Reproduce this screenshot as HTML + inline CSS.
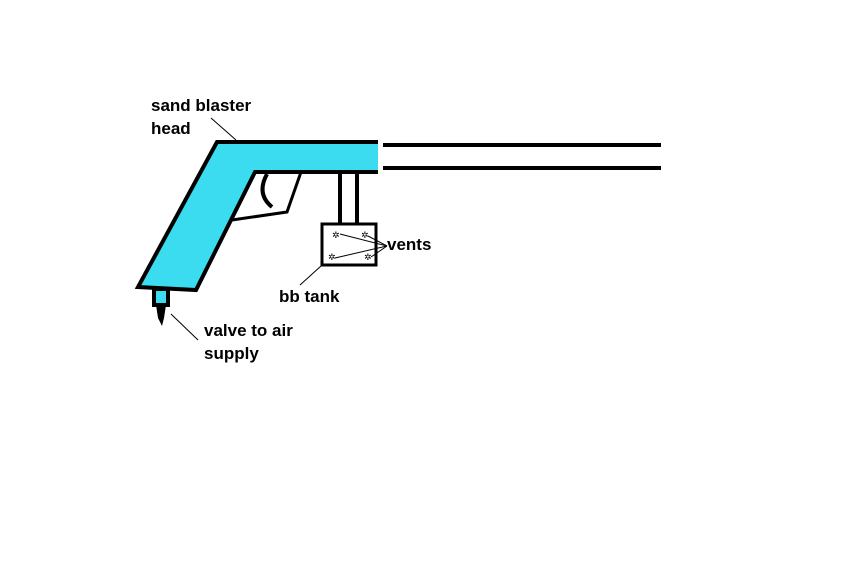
<!DOCTYPE html>
<html><head><style>
body{margin:0;background:#fff;}
svg{display:block}
text{font-family:"Liberation Sans","DejaVu Sans",sans-serif;font-weight:bold;font-size:17px;fill:#000}
</style></head><body>
<svg width="867" height="577" viewBox="0 0 867 577">
<rect width="867" height="577" fill="#fff"/>
<line x1="383" y1="145" x2="661" y2="145" stroke="#000" stroke-width="4"/>
<line x1="383" y1="168" x2="661" y2="168" stroke="#000" stroke-width="4"/>
<polyline points="301,172 287,212 232,220" fill="none" stroke="#000" stroke-width="3"/>
<path d="M267,174 Q256,194 272,207" fill="none" stroke="#000" stroke-width="4"/>
<polygon points="217,142 378,142 378,172 255,172 196,290 138,287" fill="#3bdcef"/>
<polyline points="378,142 217,142 138,287 196,290 255,172 378,172" fill="none" stroke="#000" stroke-width="4" stroke-linejoin="miter"/>
<rect x="154" y="289" width="14" height="16" fill="#3bdcef" stroke="#000" stroke-width="4"/>
<polygon points="156,305 166,305 164,318 162,326 158,318" fill="#000"/>
<line x1="171" y1="314" x2="198" y2="340" stroke="#000" stroke-width="1"/>
<line x1="340" y1="172" x2="340" y2="224" stroke="#000" stroke-width="4"/>
<line x1="357" y1="172" x2="357" y2="224" stroke="#000" stroke-width="4"/>
<rect x="322" y="224" width="54" height="41" fill="#fff" stroke="#000" stroke-width="3"/>
<text x="332" y="238" style="font-size:9px">✲</text>
<text x="361" y="238" style="font-size:9px">✲</text>
<text x="328" y="260" style="font-size:9px">✲</text>
<text x="364" y="260" style="font-size:9px">✲</text>
<line x1="340" y1="234" x2="387" y2="246" stroke="#000" stroke-width="1"/>
<line x1="368" y1="236" x2="387" y2="246" stroke="#000" stroke-width="1"/>
<line x1="335" y1="258" x2="387" y2="246" stroke="#000" stroke-width="1"/>
<line x1="371" y1="257" x2="387" y2="246" stroke="#000" stroke-width="1"/>
<line x1="321" y1="266" x2="300" y2="285" stroke="#000" stroke-width="1"/>
<line x1="211" y1="118" x2="236" y2="140" stroke="#000" stroke-width="1"/>
<text x="151" y="111">sand blaster</text>
<text x="151" y="134">head</text>
<text x="387" y="250">vents</text>
<text x="279" y="302">bb tank</text>
<text x="204" y="336">valve to air</text>
<text x="204" y="359">supply</text>
</svg>
</body></html>
